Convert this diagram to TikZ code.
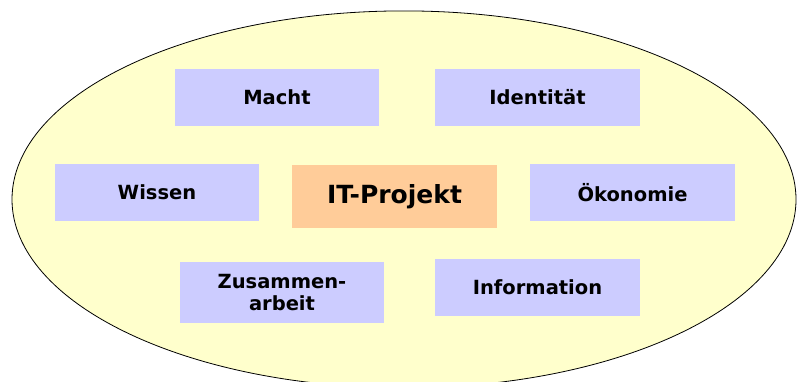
\documentclass[tikz,border=0pt]{standalone}
\usepackage{fontspec}
\setmainfont{DejaVu Sans}
\usetikzlibrary{shapes.geometric}
\begin{document}
\begin{tikzpicture}[x=1pt,y=-1pt,
  field/.style={ellipse,fill=fieldfill,draw=black,line width=0.8pt,inner sep=0pt},
  topic/.style={rectangle,fill=topicfill,draw=none,inner sep=0pt,minimum width=204.5pt,minimum height=57pt,
    font=\fontsize{19.5}{22}\selectfont\bfseries,align=center},
  core/.style={rectangle,fill=corefill,draw=none,inner sep=0pt,minimum width=205pt,minimum height=63pt,
    font=\fontsize{25}{29}\selectfont\bfseries,align=center}]
\definecolor{fieldfill}{HTML}{FFFFCC}
\definecolor{topicfill}{HTML}{CCCCFF}
\definecolor{corefill}{HTML}{FFCC99}
\useasboundingbox (0,0) rectangle (799,381);
\clip (0,0) rectangle (799,381);
\node[field,minimum width=784pt,minimum height=377pt] (feld) at (404,199.4) {};
\node[topic] (macht) at (277,97.5) {Macht};
\node[topic] (ident) at (537.5,97.5) {Identität};
\node[topic] (wissen) at (157,192.5) {Wissen};
\node[core] (itp) at (394.5,196.5) {IT-Projekt};
\node[topic] (oeko) at (632.5,192.5) {Ökonomie};
\node[topic,minimum height=61pt] (zus) at (282,292.5) {Zusammen-\\arbeit};
\node[topic] (info) at (537.5,287.5) {Information};
\end{tikzpicture}
\end{document}
